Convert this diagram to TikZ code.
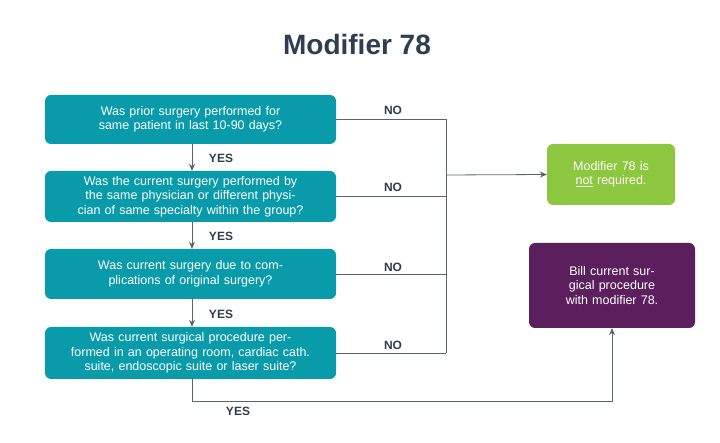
\documentclass[tikz,border=0pt]{standalone}
\usepackage{fontspec}
\setmainfont{Liberation Sans}
\usetikzlibrary{arrows.meta}
\definecolor{teal1}{HTML}{0A9BAA}
\definecolor{navy}{HTML}{2D3E50}
\definecolor{grn}{HTML}{8DC63F}
\definecolor{purp}{HTML}{5A1F5C}
\definecolor{lbl}{HTML}{2D3E50}
\begin{document}
\begin{tikzpicture}[x=1pt,y=-1pt,
 q/.style={fill=teal1,rounded corners=6pt,minimum width=291pt,text width=260pt,align=center,text=white,font=\fontsize{12.5}{14.5}\selectfont,inner sep=0pt},
 lab/.style={font=\bfseries\fontsize{12}{14}\selectfont,text=lbl},
 ln/.style={draw=navy!80,line width=0.8pt},
 arr/.style={ln,-{Stealth[length=7pt,width=6pt]}}]
\useasboundingbox (0,0) rectangle (720,443);
\node[font=\bfseries\fontsize{28}{32}\selectfont,text=navy] (title) at (357,44) {Modifier 78};
\node[q,minimum height=49pt] (b1) at (190.5,119.5) {Was prior surgery performed for same patient in last 10-90 days?};
\node[q,minimum height=51pt] (b2) at (190.5,196.5) {Was the current surgery performed by the same physician or different physician of same specialty within the group?};
\node[q,minimum height=50pt] (b3) at (190.5,274) {Was current surgery due to complications of original surgery?};
\node[q,minimum height=52pt] (b4) at (190.5,353) {Was current surgical procedure performed in an operating room, cardiac cath. suite, endoscopic suite or laser suite?};
\node[fill=grn,rounded corners=6pt,minimum width=128pt,minimum height=61pt,text width=115pt,align=center,text=white,font=\fontsize{12.5}{14.5}\selectfont,inner sep=0pt] (g) at (611,174.5) {Modifier 78 is \underline{not} required.};
\node[fill=purp,rounded corners=6pt,minimum width=166pt,minimum height=85pt,text width=130pt,align=center,text=white,font=\fontsize{12.5}{14.5}\selectfont,inner sep=0pt] (p) at (612,285.5) {Bill current surgical procedure with modifier 78.};
\coordinate (t1) at (446,119.5);
\coordinate (t4) at (446,353);
\coordinate (tm) at (446,175);
\draw[ln] (b1.east) -- (t1) -- (t4);
\draw[ln] (b2.east) -- (446,196.5);
\draw[ln] (b3.east) -- (446,274);
\draw[ln] (b4.east) -- (t4);
\draw[arr] (tm) -- (g.west);
\node[lab] (n1) at (393,110) {NO};
\node[lab] (n2) at (393,187) {NO};
\node[lab] (n3) at (393,267) {NO};
\node[lab] (n4) at (393,345) {NO};
\draw[arr] (b1.south -| 192,0) -- (b2.north -| 192,0);
\draw[arr] (b2.south -| 192,0) -- (b3.north -| 192,0);
\draw[arr] (b3.south -| 192,0) -- (b4.north -| 192,0);
\node[lab] (y1) at (221,158) {YES};
\node[lab] (y2) at (221,236) {YES};
\node[lab] (y3) at (221,314) {YES};
\coordinate (c1) at (192,401);
\coordinate (c2) at (612,401);
\draw[arr] (b4.south -| 192,0) -- (c1) -- (c2) -- (p.south);
\node[lab] (y4) at (238,411) {YES};
\end{tikzpicture}
\end{document}
